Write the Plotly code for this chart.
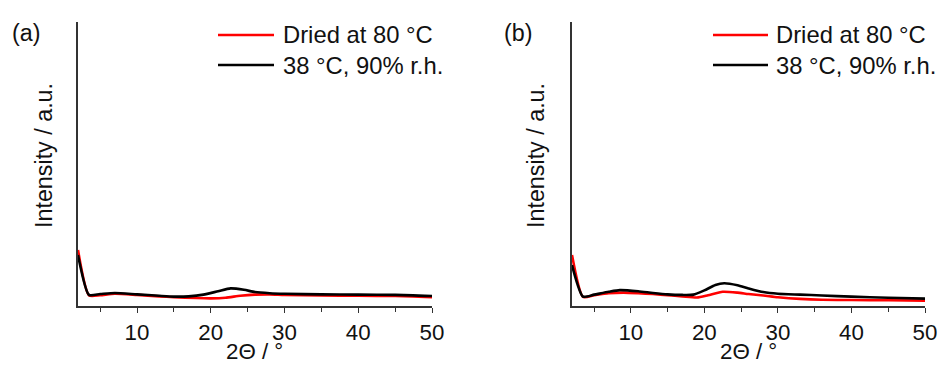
import plotly.graph_objects as go

# ---- data (2Theta in degrees, intensity in arbitrary units) ----
x_a_dry = [2, 3.5, 5, 7, 10, 13, 15, 18, 20, 22, 24, 26, 28, 30, 35, 40, 45, 50]
y_a_dry = [197, 37, 38, 43, 39, 34, 31, 28, 27, 29, 36, 40, 41, 39, 37, 36, 35, 31]
x_a_hum = [2, 3.5, 5, 7, 10, 13, 15, 17, 19, 21, 22.7, 24.5, 26, 28, 30, 35, 40, 45, 50]
y_a_hum = [180, 39, 42, 46, 41, 36, 33, 34, 40, 52, 62, 57, 49, 45, 43, 41, 40, 39, 35]

x_b_dry = [2, 3.5, 5, 7, 9, 11, 13, 15, 17, 19, 20.5, 22.5, 24.5, 26, 28, 30, 33, 36, 40, 45, 50]
y_b_dry = [180, 32, 38, 45, 47, 45, 42, 38, 34, 30, 38, 50, 47, 42, 37, 31, 25, 22, 21, 20, 19]
x_b_hum = [2, 3.5, 5, 7, 8.5, 11, 13, 15, 17, 18.5, 20, 21.5, 22.7, 24.5, 26, 28, 30, 33, 36, 40, 45, 50]
y_b_hum = [144, 33, 40, 50, 56, 52, 46, 41, 39, 40, 55, 74, 80, 73, 62, 49, 43, 40, 37, 33, 29, 26]

series_names = ["Dried at 80 °C", "38 °C, 90% r.h."]
series_colors = ["#ff0000", "#000000"]
panel_labels = ["(a)", "(b)"]
x_title = "2Θ / °"
y_title = "Intensity / a.u."
x_range = [2, 50]
y_range = [0, 1000]

REF_W, REF_H = 941, 365
SX = 1.013  # horizontal compensation for the slight downscale seen in the photo
W, H = round(REF_W * SX), REF_H
FONT = "Arial, 'Liberation Sans', sans-serif"

fig = go.Figure()

panels = [
    ("x", "y", [(x_a_dry, y_a_dry), (x_a_hum, y_a_hum)]),
    ("x2", "y2", [(x_b_dry, y_b_dry), (x_b_hum, y_b_hum)]),
]
for xa, ya, data in panels:
    for (xs, ys), name, col in zip(data, series_names, series_colors):
        fig.add_trace(go.Scatter(
            x=xs, y=ys, mode="lines", name=name, xaxis=xa, yaxis=ya,
            line=dict(color=col, width=2.6, shape="spline", smoothing=0.6),
            showlegend=False,
        ))

def px_x(p):
    return p / REF_W

def px_y(p):
    return 1 - p / REF_H

xdom_a = [px_x(78), px_x(432)]
xdom_b = [px_x(572), px_x(925)]
ydom = [px_y(306), px_y(22)]

common_x = dict(
    range=x_range, tickmode="linear", tick0=0, dtick=10,
    ticks="outside", ticklen=5, tickwidth=1.2, tickcolor="#333",
    minor=dict(dtick=5, tick0=0, ticks="outside", ticklen=4, tickwidth=1.2, tickcolor="#333"),
    showline=True, linecolor="#333", linewidth=1.5, showgrid=False, zeroline=False,
    tickfont=dict(size=22.3, color="#111", family=FONT),
)
common_y = dict(
    range=y_range, showline=True, linecolor="#333", linewidth=1.5,
    showticklabels=False, ticks="", showgrid=False, zeroline=False,
)

fig.update_layout(
    width=W, height=H, autosize=False,
    margin=dict(l=0, r=0, t=0, b=0),
    paper_bgcolor="white", plot_bgcolor="white",
    font=dict(family=FONT, color="#111"),
    xaxis=dict(domain=xdom_a, anchor="y", **common_x),
    yaxis=dict(domain=ydom, anchor="x", **common_y),
    xaxis2=dict(domain=xdom_b, anchor="y2", **common_x),
    yaxis2=dict(domain=ydom, anchor="x2", **common_y),
)

# x-axis titles below each axis
for xp in [255, 748]:
    fig.add_annotation(text=x_title, xref="paper", yref="paper", x=px_x(xp), y=px_y(351),
                       xanchor="center", yanchor="middle", showarrow=False,
                       font=dict(size=22.3, color="#111", family=FONT))

# y-axis titles as rotated text beside each axis
for xp in [44, 536]:
    fig.add_annotation(text=y_title, xref="paper", yref="paper", x=px_x(xp), y=px_y(156),
                       xanchor="center", yanchor="middle", textangle=-90, showarrow=False,
                       font=dict(size=23.3, color="#111", family=FONT))

# panel labels
for lab, xp in zip(panel_labels, [10, 502]):
    fig.add_annotation(text=lab, xref="paper", yref="paper", x=px_x(xp), y=px_y(33),
                       xanchor="left", yanchor="middle", showarrow=False,
                       font=dict(size=23.3, color="#111", family=FONT))

# legends (one per panel)
for line_x0, line_x1, text_x in [(218, 274, 281), (713, 768, 774)]:
    for name, col, yp in zip(series_names, series_colors, [35, 65]):
        fig.add_shape(type="line", xref="paper", yref="paper",
                      x0=px_x(line_x0), x1=px_x(line_x1), y0=px_y(yp), y1=px_y(yp),
                      line=dict(color=col, width=2.4))
        fig.add_annotation(text=name, xref="paper", yref="paper", x=px_x(text_x), y=px_y(yp),
                           xanchor="left", yanchor="middle", showarrow=False,
                           font=dict(size=23.8, color="#111", family=FONT))

fig.write_html(
    "out.html",
    config={"responsive": False, "displayModeBar": False},
    post_script="document.body.style.margin='0';document.body.style.overflow='hidden';",
)
